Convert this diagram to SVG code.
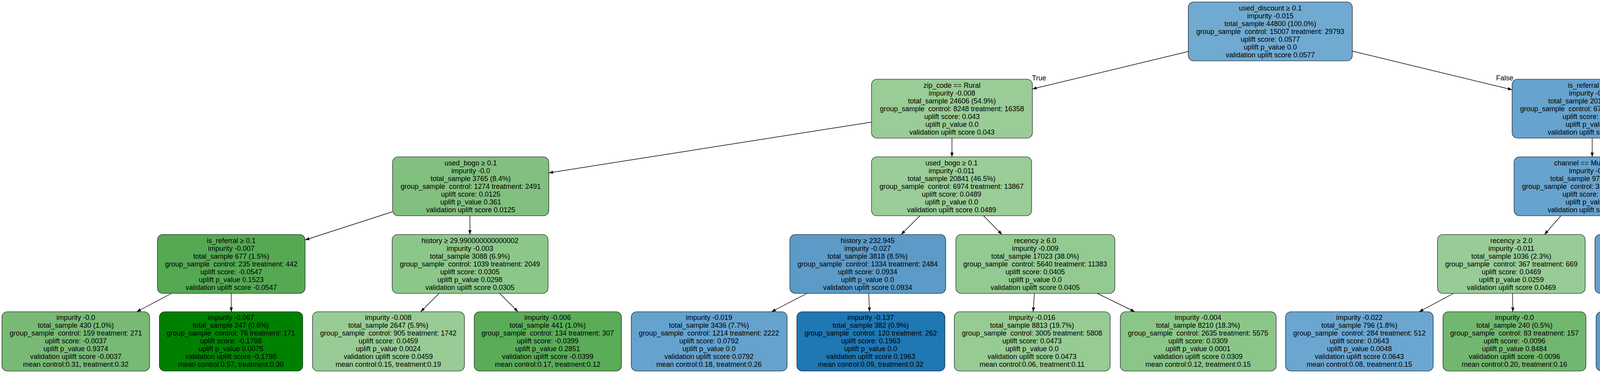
<svg xmlns="http://www.w3.org/2000/svg" width="6547" height="956" viewBox="0 0 6547 956">
<style>
.bg{fill:#ffffff}
.n rect{stroke:#000000;stroke-width:1.1}
.n text,.lbl{font-family:"Liberation Sans",Arial,Helvetica,sans-serif;font-size:18px;fill:#000000;text-anchor:middle}
.e line{stroke:#000000;stroke-width:1.4;fill:none;marker-end:url(#arr)}
</style>
<defs>
<marker id="arr" markerUnits="userSpaceOnUse" markerWidth="12" markerHeight="8" refX="11" refY="4" orient="auto"><path d="M0,0 L11,4 L0,8 z" fill="#000000"/></marker>
</defs>
<rect class="bg" x="0" y="0" width="6547" height="956"/>
<g id="connectors" class="e">
<line x1="3042" y1="132" x2="2643" y2="228"/>
<line x1="3462" y1="131" x2="3871" y2="230"/>
<line x1="2231" y1="313" x2="1405" y2="443"/>
<line x1="2437" y1="354" x2="2437" y2="402"/>
<line x1="4076" y1="354" x2="4076" y2="402"/>
<line x1="4281" y1="313" x2="5108" y2="443"/>
<line x1="1004" y1="543" x2="781" y2="615"/>
<line x1="1203" y1="553" x2="1203" y2="601"/>
<line x1="2355" y1="553" x2="2307" y2="601"/>
<line x1="2518" y1="553" x2="2565" y2="601"/>
<line x1="3996" y1="553" x2="3954" y2="601"/>
<line x1="4154" y1="553" x2="4202" y2="601"/>
<line x1="5307" y1="553" x2="5307" y2="601"/>
<line x1="5508" y1="542" x2="5739" y2="614"/>
<line x1="439" y1="752" x2="350" y2="799"/>
<line x1="592" y1="752" x2="592" y2="799"/>
<line x1="1124" y1="752" x2="1077" y2="799"/>
<line x1="1279" y1="752" x2="1326" y2="799"/>
<line x1="2066" y1="752" x2="1975" y2="799"/>
<line x1="2224" y1="752" x2="2226" y2="799"/>
<line x1="2648" y1="752" x2="2645" y2="799"/>
<line x1="2809" y1="752" x2="2905" y2="799"/>
<line x1="3721" y1="752" x2="3633" y2="799"/>
<line x1="3872" y1="752" x2="3873" y2="799"/>
<line x1="4281" y1="752" x2="4277" y2="799"/>
<line x1="4438" y1="752" x2="4530" y2="799"/>
<line x1="5228" y1="752" x2="5183" y2="799"/>
<line x1="5387" y1="752" x2="5432" y2="799"/>
<line x1="5938" y1="752" x2="5938" y2="799"/>
<line x1="6095" y1="752" x2="6189" y2="799"/>
<text class="lbl" x="2660" y="206">True</text>
<text class="lbl" x="3852" y="206">False</text>
</g>
<g id="node0" class="n"><rect x="3042" y="5" width="420" height="151" rx="14" fill="#70aad1"/><text xml:space="preserve"><tspan x="3252" y="27">used_discount ≥ 0.1</tspan><tspan x="3252" y="47">impurity -0.015</tspan><tspan x="3252" y="67">total_sample 44800 (100.0%)</tspan><tspan x="3252" y="87">group_sample  control: 15007 treatment: 29793</tspan><tspan x="3252" y="107">uplift score: 0.0577</tspan><tspan x="3252" y="127">uplift p_value 0.0</tspan><tspan x="3252" y="147">validation uplift score 0.0577</tspan></text></g>
<g id="node1" class="n"><rect x="2231" y="203" width="412" height="151" rx="14" fill="#99cc96"/><text xml:space="preserve"><tspan x="2437" y="225">zip_code == Rural</tspan><tspan x="2437" y="245">impurity -0.008</tspan><tspan x="2437" y="265">total_sample 24606 (54.9%)</tspan><tspan x="2437" y="285">group_sample  control: 8248 treatment: 16358</tspan><tspan x="2437" y="305">uplift score: 0.043</tspan><tspan x="2437" y="325">uplift p_value 0.0</tspan><tspan x="2437" y="345">validation uplift score 0.043</tspan></text></g>
<g id="node2" class="n"><rect x="3871" y="203" width="410" height="151" rx="14" fill="#66a3cf"/><text xml:space="preserve"><tspan x="4076" y="225">is_referral ≥ 0.1</tspan><tspan x="4076" y="245">impurity -0.028</tspan><tspan x="4076" y="265">total_sample 20194 (45.1%)</tspan><tspan x="4076" y="285">group_sample  control: 6759 treatment: 13435</tspan><tspan x="4076" y="305">uplift score: 0.0756</tspan><tspan x="4076" y="325">uplift p_value 0.0</tspan><tspan x="4076" y="345">validation uplift score 0.0756</tspan></text></g>
<g id="node3" class="n"><rect x="1005" y="402" width="400" height="151" rx="14" fill="#82c07f"/><text xml:space="preserve"><tspan x="1205" y="424">used_bogo ≥ 0.1</tspan><tspan x="1205" y="444">impurity -0.0</tspan><tspan x="1205" y="464">total_sample 3765 (8.4%)</tspan><tspan x="1205" y="484">group_sample  control: 1274 treatment: 2491</tspan><tspan x="1205" y="504">uplift score: 0.0125</tspan><tspan x="1205" y="524">uplift p_value 0.361</tspan><tspan x="1205" y="544">validation uplift score 0.0125</tspan></text></g>
<g id="node4" class="n"><rect x="2231" y="402" width="410" height="151" rx="14" fill="#9acd98"/><text xml:space="preserve"><tspan x="2436" y="424">used_bogo ≥ 0.1</tspan><tspan x="2436" y="444">impurity -0.011</tspan><tspan x="2436" y="464">total_sample 20841 (46.5%)</tspan><tspan x="2436" y="484">group_sample  control: 6974 treatment: 13867</tspan><tspan x="2436" y="504">uplift score: 0.0489</tspan><tspan x="2436" y="524">uplift p_value 0.0</tspan><tspan x="2436" y="544">validation uplift score 0.0489</tspan></text></g>
<g id="node5" class="n"><rect x="3876" y="402" width="400" height="151" rx="14" fill="#66a3cf"/><text xml:space="preserve"><tspan x="4076" y="424">channel == Multichannel</tspan><tspan x="4076" y="444">impurity -0.039</tspan><tspan x="4076" y="464">total_sample 9761 (21.8%)</tspan><tspan x="4076" y="484">group_sample  control: 3241 treatment: 6520</tspan><tspan x="4076" y="504">uplift score: 0.0768</tspan><tspan x="4076" y="524">uplift p_value 0.0</tspan><tspan x="4076" y="544">validation uplift score 0.0768</tspan></text></g>
<g id="node6" class="n"><rect x="5108" y="402" width="401" height="151" rx="14" fill="#67a3cf"/><text xml:space="preserve"><tspan x="5308" y="424">recency ≥ 6.0</tspan><tspan x="5308" y="444">impurity -0.022</tspan><tspan x="5308" y="464">total_sample 10433 (23.3%)</tspan><tspan x="5308" y="484">group_sample  control: 3518 treatment: 6915</tspan><tspan x="5308" y="504">uplift score: 0.0753</tspan><tspan x="5308" y="524">uplift p_value 0.0</tspan><tspan x="5308" y="544">validation uplift score 0.0753</tspan></text></g>
<g id="node7" class="n"><rect x="403" y="601" width="378" height="151" rx="14" fill="#55a953"/><text xml:space="preserve"><tspan x="592" y="623">is_referral ≥ 0.1</tspan><tspan x="592" y="643">impurity -0.007</tspan><tspan x="592" y="663">total_sample 677 (1.5%)</tspan><tspan x="592" y="683">group_sample  control: 235 treatment: 442</tspan><tspan x="592" y="703">uplift score: -0.0547</tspan><tspan x="592" y="723">uplift p_value 0.1523</tspan><tspan x="592" y="743">validation uplift score -0.0547</tspan></text></g>
<g id="node8" class="n"><rect x="1004" y="601" width="399" height="151" rx="14" fill="#8cc78a"/><text xml:space="preserve"><tspan x="1203" y="623">history ≥ 29.990000000000002</tspan><tspan x="1203" y="643">impurity -0.003</tspan><tspan x="1203" y="663">total_sample 3088 (6.9%)</tspan><tspan x="1203" y="683">group_sample  control: 1039 treatment: 2049</tspan><tspan x="1203" y="703">uplift score: 0.0305</tspan><tspan x="1203" y="723">uplift p_value 0.0298</tspan><tspan x="1203" y="743">validation uplift score 0.0305</tspan></text></g>
<g id="node9" class="n"><rect x="2022" y="601" width="399" height="151" rx="14" fill="#5c9bc8"/><text xml:space="preserve"><tspan x="2221" y="623">history ≥ 232.945</tspan><tspan x="2221" y="643">impurity -0.027</tspan><tspan x="2221" y="663">total_sample 3818 (8.5%)</tspan><tspan x="2221" y="683">group_sample  control: 1334 treatment: 2484</tspan><tspan x="2221" y="703">uplift score: 0.0934</tspan><tspan x="2221" y="723">uplift p_value 0.0</tspan><tspan x="2221" y="743">validation uplift score 0.0934</tspan></text></g>
<g id="node10" class="n"><rect x="2447" y="601" width="407" height="151" rx="14" fill="#93ca91"/><text xml:space="preserve"><tspan x="2650" y="623">recency ≥ 6.0</tspan><tspan x="2650" y="643">impurity -0.009</tspan><tspan x="2650" y="663">total_sample 17023 (38.0%)</tspan><tspan x="2650" y="683">group_sample  control: 5640 treatment: 11383</tspan><tspan x="2650" y="703">uplift score: 0.0405</tspan><tspan x="2650" y="723">uplift p_value 0.0</tspan><tspan x="2650" y="743">validation uplift score 0.0405</tspan></text></g>
<g id="node11" class="n"><rect x="3680" y="601" width="378" height="151" rx="14" fill="#98cc96"/><text xml:space="preserve"><tspan x="3869" y="623">recency ≥ 2.0</tspan><tspan x="3869" y="643">impurity -0.011</tspan><tspan x="3869" y="663">total_sample 1036 (2.3%)</tspan><tspan x="3869" y="683">group_sample  control: 367 treatment: 669</tspan><tspan x="3869" y="703">uplift score: 0.0469</tspan><tspan x="3869" y="723">uplift p_value 0.0259</tspan><tspan x="3869" y="743">validation uplift score 0.0469</tspan></text></g>
<g id="node12" class="n"><rect x="4083" y="601" width="399" height="151" rx="14" fill="#63a0cd"/><text xml:space="preserve"><tspan x="4282" y="623">recency ≥ 11.0</tspan><tspan x="4282" y="643">impurity -0.047</tspan><tspan x="4282" y="663">total_sample 8725 (19.5%)</tspan><tspan x="4282" y="683">group_sample  control: 2874 treatment: 5851</tspan><tspan x="4282" y="703">uplift score: 0.0817</tspan><tspan x="4282" y="723">uplift p_value 0.0</tspan><tspan x="4282" y="743">validation uplift score 0.0817</tspan></text></g>
<g id="node13" class="n"><rect x="5108" y="601" width="400" height="151" rx="14" fill="#5b9bc9"/><text xml:space="preserve"><tspan x="5308" y="623">recency ≥ 11.4</tspan><tspan x="5308" y="643">impurity -0.039</tspan><tspan x="5308" y="663">total_sample 5514 (12.3%)</tspan><tspan x="5308" y="683">group_sample  control: 1856 treatment: 3658</tspan><tspan x="5308" y="703">uplift score: 0.0925</tspan><tspan x="5308" y="723">uplift p_value 0.0</tspan><tspan x="5308" y="743">validation uplift score 0.0925</tspan></text></g>
<g id="node14" class="n"><rect x="5739" y="601" width="399" height="151" rx="14" fill="#9ecf9c"/><text xml:space="preserve"><tspan x="5938" y="623">recency ≥ 1.4</tspan><tspan x="5938" y="643">impurity -0.011</tspan><tspan x="5938" y="663">total_sample 4919 (11.0%)</tspan><tspan x="5938" y="683">group_sample  control: 1662 treatment: 3257</tspan><tspan x="5938" y="703">uplift score: 0.0558</tspan><tspan x="5938" y="723">uplift p_value 0.0</tspan><tspan x="5938" y="743">validation uplift score 0.0558</tspan></text></g>
<g id="leaf1" class="n"><rect x="5" y="799" width="378" height="152" rx="14" fill="#78b975"/><text xml:space="preserve"><tspan x="194" y="820">impurity -0.0</tspan><tspan x="194" y="840">total_sample 430 (1.0%)</tspan><tspan x="194" y="860">group_sample  control: 159 treatment: 271</tspan><tspan x="194" y="880">uplift score: -0.0037</tspan><tspan x="194" y="900">uplift p_value 0.9374</tspan><tspan x="194" y="920">validation uplift score -0.0037</tspan><tspan x="194" y="940">mean control:0.31, treatment:0.32</tspan></text></g>
<g id="leaf2" class="n"><rect x="408" y="799" width="367" height="152" rx="14" fill="#008000"/><text xml:space="preserve"><tspan x="591" y="820">impurity -0.067</tspan><tspan x="591" y="840">total_sample 247 (0.6%)</tspan><tspan x="591" y="860">group_sample  control: 76 treatment: 171</tspan><tspan x="591" y="880">uplift score: -0.1798</tspan><tspan x="591" y="900">uplift p_value 0.0075</tspan><tspan x="591" y="920">validation uplift score -0.1798</tspan><tspan x="591" y="940">mean control:0.57, treatment:0.30</tspan></text></g>
<g id="leaf3" class="n"><rect x="800" y="799" width="389" height="152" rx="14" fill="#98cb95"/><text xml:space="preserve"><tspan x="994" y="820">impurity -0.008</tspan><tspan x="994" y="840">total_sample 2647 (5.9%)</tspan><tspan x="994" y="860">group_sample  control: 905 treatment: 1742</tspan><tspan x="994" y="880">uplift score: 0.0459</tspan><tspan x="994" y="900">uplift p_value 0.0024</tspan><tspan x="994" y="920">validation uplift score 0.0459</tspan><tspan x="994" y="940">mean control:0.15, treatment:0.19</tspan></text></g>
<g id="leaf4" class="n"><rect x="1214" y="799" width="377" height="152" rx="14" fill="#5aac58"/><text xml:space="preserve"><tspan x="1402" y="820">impurity -0.006</tspan><tspan x="1402" y="840">total_sample 441 (1.0%)</tspan><tspan x="1402" y="860">group_sample  control: 134 treatment: 307</tspan><tspan x="1402" y="880">uplift score: -0.0399</tspan><tspan x="1402" y="900">uplift p_value 0.2851</tspan><tspan x="1402" y="920">validation uplift score -0.0399</tspan><tspan x="1402" y="940">mean control:0.17, treatment:0.12</tspan></text></g>
<g id="leaf5" class="n"><rect x="1616" y="799" width="399" height="152" rx="14" fill="#65a2ce"/><text xml:space="preserve"><tspan x="1815" y="820">impurity -0.019</tspan><tspan x="1815" y="840">total_sample 3436 (7.7%)</tspan><tspan x="1815" y="860">group_sample  control: 1214 treatment: 2222</tspan><tspan x="1815" y="880">uplift score: 0.0792</tspan><tspan x="1815" y="900">uplift p_value 0.0</tspan><tspan x="1815" y="920">validation uplift score 0.0792</tspan><tspan x="1815" y="940">mean control:0.18, treatment:0.26</tspan></text></g>
<g id="leaf6" class="n"><rect x="2040" y="799" width="379" height="152" rx="14" fill="#1f77b4"/><text xml:space="preserve"><tspan x="2229" y="820">impurity -0.137</tspan><tspan x="2229" y="840">total_sample 382 (0.9%)</tspan><tspan x="2229" y="860">group_sample  control: 120 treatment: 262</tspan><tspan x="2229" y="880">uplift score: 0.1963</tspan><tspan x="2229" y="900">uplift p_value 0.0</tspan><tspan x="2229" y="920">validation uplift score 0.1963</tspan><tspan x="2229" y="940">mean control:0.09, treatment:0.32</tspan></text></g>
<g id="leaf7" class="n"><rect x="2443" y="799" width="399" height="152" rx="14" fill="#97cb94"/><text xml:space="preserve"><tspan x="2642" y="820">impurity -0.016</tspan><tspan x="2642" y="840">total_sample 8813 (19.7%)</tspan><tspan x="2642" y="860">group_sample  control: 3005 treatment: 5808</tspan><tspan x="2642" y="880">uplift score: 0.0473</tspan><tspan x="2642" y="900">uplift p_value 0.0</tspan><tspan x="2642" y="920">validation uplift score 0.0473</tspan><tspan x="2642" y="940">mean control:0.06, treatment:0.11</tspan></text></g>
<g id="leaf8" class="n"><rect x="2868" y="799" width="399" height="152" rx="14" fill="#8bc689"/><text xml:space="preserve"><tspan x="3067" y="820">impurity -0.004</tspan><tspan x="3067" y="840">total_sample 8210 (18.3%)</tspan><tspan x="3067" y="860">group_sample  control: 2635 treatment: 5575</tspan><tspan x="3067" y="880">uplift score: 0.0309</tspan><tspan x="3067" y="900">uplift p_value 0.0001</tspan><tspan x="3067" y="920">validation uplift score 0.0309</tspan><tspan x="3067" y="940">mean control:0.12, treatment:0.15</tspan></text></g>
<g id="leaf9" class="n"><rect x="3291" y="799" width="378" height="152" rx="14" fill="#6ba6d0"/><text xml:space="preserve"><tspan x="3480" y="820">impurity -0.022</tspan><tspan x="3480" y="840">total_sample 796 (1.8%)</tspan><tspan x="3480" y="860">group_sample  control: 284 treatment: 512</tspan><tspan x="3480" y="880">uplift score: 0.0643</tspan><tspan x="3480" y="900">uplift p_value 0.0048</tspan><tspan x="3480" y="920">validation uplift score 0.0643</tspan><tspan x="3480" y="940">mean control:0.08, treatment:0.15</tspan></text></g>
<g id="leaf10" class="n"><rect x="3694" y="799" width="366" height="152" rx="14" fill="#72b770"/><text xml:space="preserve"><tspan x="3877" y="820">impurity -0.0</tspan><tspan x="3877" y="840">total_sample 240 (0.5%)</tspan><tspan x="3877" y="860">group_sample  control: 83 treatment: 157</tspan><tspan x="3877" y="880">uplift score: -0.0096</tspan><tspan x="3877" y="900">uplift p_value 0.8484</tspan><tspan x="3877" y="920">validation uplift score -0.0096</tspan><tspan x="3877" y="940">mean control:0.20, treatment:0.16</tspan></text></g>
<g id="leaf11" class="n"><rect x="4086" y="799" width="377" height="152" rx="14" fill="#5b9bc9"/><text xml:space="preserve"><tspan x="4274" y="820">impurity -0.096</tspan><tspan x="4274" y="840">total_sample 893 (2.0%)</tspan><tspan x="4274" y="860">group_sample  control: 263 treatment: 630</tspan><tspan x="4274" y="880">uplift score: 0.0886</tspan><tspan x="4274" y="900">uplift p_value 0.0</tspan><tspan x="4274" y="920">validation uplift score 0.0886</tspan><tspan x="4274" y="940">mean control:0.02, treatment:0.11</tspan></text></g>
<g id="leaf12" class="n"><rect x="4489" y="799" width="398" height="152" rx="14" fill="#63a0cd"/><text xml:space="preserve"><tspan x="4688" y="820">impurity -0.045</tspan><tspan x="4688" y="840">total_sample 7832 (17.5%)</tspan><tspan x="4688" y="860">group_sample  control: 2611 treatment: 5221</tspan><tspan x="4688" y="880">uplift score: 0.0813</tspan><tspan x="4688" y="900">uplift p_value 0.0</tspan><tspan x="4688" y="920">validation uplift score 0.0813</tspan><tspan x="4688" y="940">mean control:0.06, treatment:0.14</tspan></text></g>
<g id="leaf13" class="n"><rect x="4912" y="799" width="378" height="152" rx="14" fill="#6aa6d0"/><text xml:space="preserve"><tspan x="5101" y="820">impurity -0.017</tspan><tspan x="5101" y="840">total_sample 417 (0.9%)</tspan><tspan x="5101" y="860">group_sample  control: 151 treatment: 266</tspan><tspan x="5101" y="880">uplift score: 0.067</tspan><tspan x="5101" y="900">uplift p_value 0.0706</tspan><tspan x="5101" y="920">validation uplift score 0.067</tspan><tspan x="5101" y="940">mean control:0.15, treatment:0.20</tspan></text></g>
<g id="leaf14" class="n"><rect x="5315" y="799" width="399" height="152" rx="14" fill="#5698c8"/><text xml:space="preserve"><tspan x="5514" y="820">impurity -0.043</tspan><tspan x="5514" y="840">total_sample 5097 (11.4%)</tspan><tspan x="5514" y="860">group_sample  control: 1705 treatment: 3392</tspan><tspan x="5514" y="880">uplift score: 0.0962</tspan><tspan x="5514" y="900">uplift p_value 0.0</tspan><tspan x="5514" y="920">validation uplift score 0.0962</tspan><tspan x="5514" y="940">mean control:0.10, treatment:0.19</tspan></text></g>
<g id="leaf15" class="n"><rect x="5739" y="799" width="399" height="152" rx="14" fill="#8ec78b"/><text xml:space="preserve"><tspan x="5938" y="820">impurity -0.005</tspan><tspan x="5938" y="840">total_sample 3642 (8.1%)</tspan><tspan x="5938" y="860">group_sample  control: 1235 treatment: 2407</tspan><tspan x="5938" y="880">uplift score: 0.036</tspan><tspan x="5938" y="900">uplift p_value 0.0067</tspan><tspan x="5938" y="920">validation uplift score 0.036</tspan><tspan x="5938" y="940">mean control:0.16, treatment:0.20</tspan></text></g>
<g id="leaf16" class="n"><rect x="6163" y="799" width="377" height="152" rx="14" fill="#4e92c4"/><text xml:space="preserve"><tspan x="6351" y="820">impurity -0.041</tspan><tspan x="6351" y="840">total_sample 1277 (2.9%)</tspan><tspan x="6351" y="860">group_sample  control: 427 treatment: 850</tspan><tspan x="6351" y="880">uplift score: 0.1071</tspan><tspan x="6351" y="900">uplift p_value 0.0</tspan><tspan x="6351" y="920">validation uplift score 0.1071</tspan><tspan x="6351" y="940">mean control:0.13, treatment:0.24</tspan></text></g>
</svg>
